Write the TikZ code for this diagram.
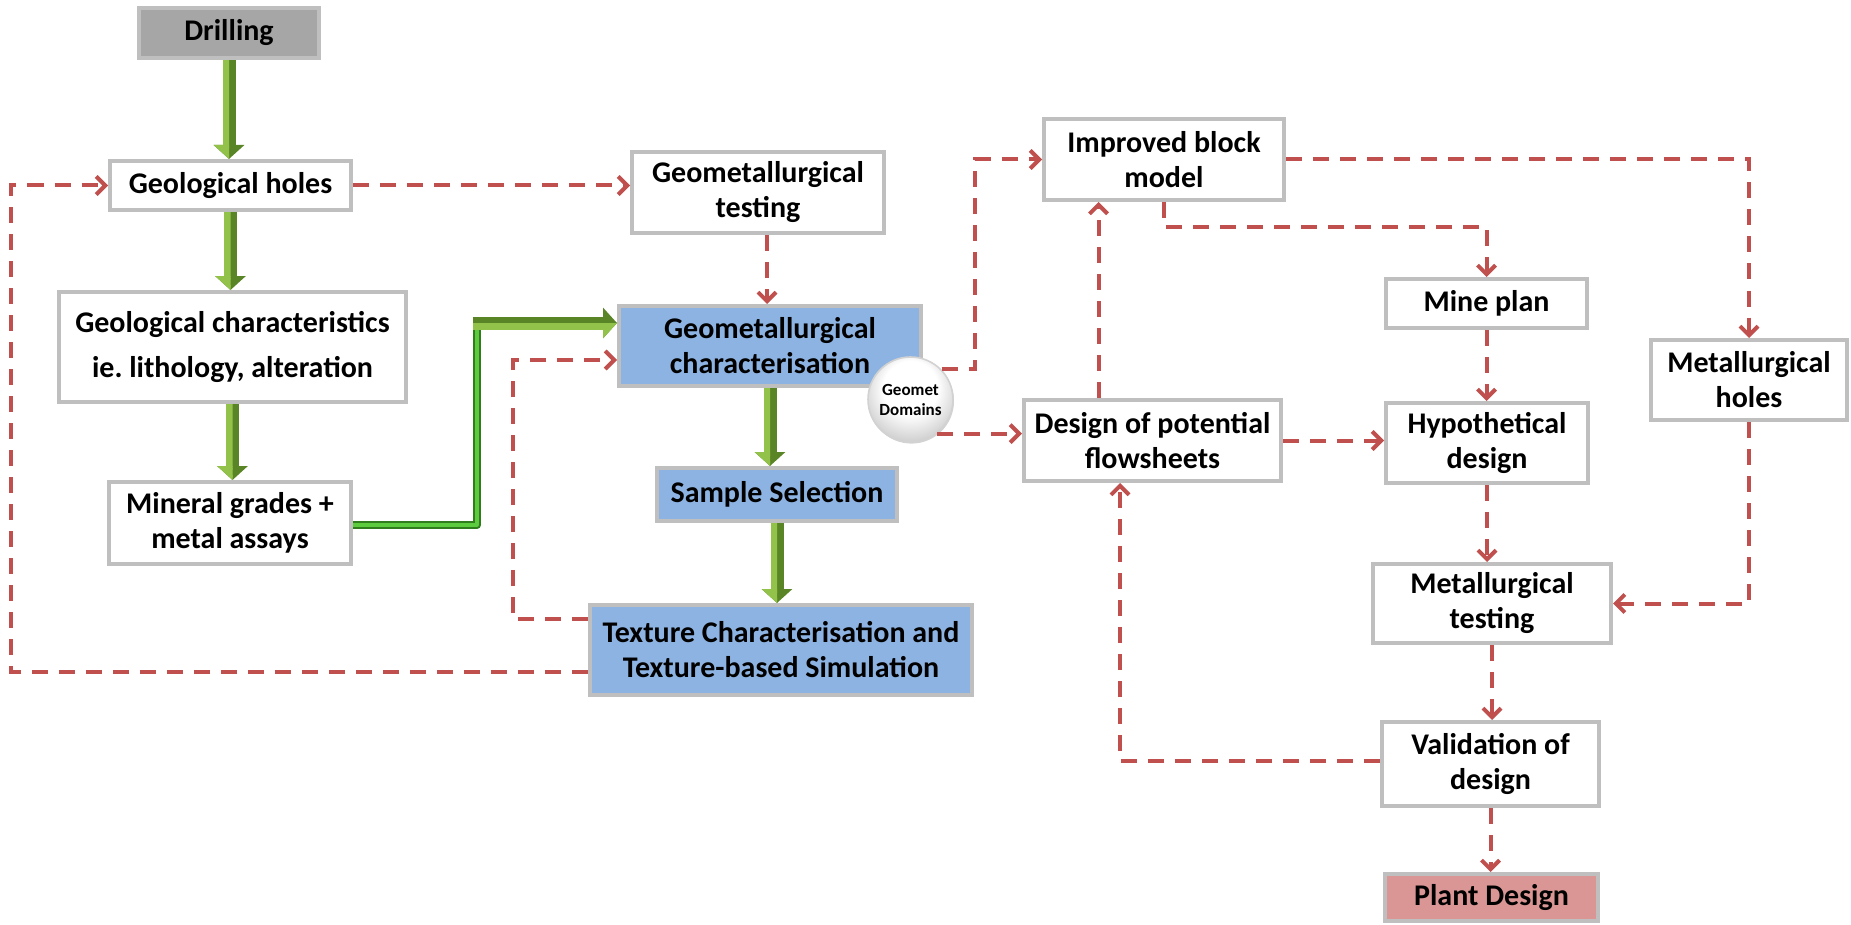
\documentclass[tikz,border=0pt]{standalone}
\usepackage{fontspec}
\setmainfont{Carlito}
\usetikzlibrary{arrows.meta,calc,shadows}
\frenchspacing
\definecolor{boxgray}{HTML}{BFBFBF}
\definecolor{shadowgray}{HTML}{A3A3A3}
\definecolor{drillfill}{HTML}{A6A6A6}
\definecolor{bluefill}{HTML}{8DB3E2}
\definecolor{plantfill}{HTML}{D99694}
\definecolor{redline}{HTML}{C0504D}
\definecolor{gdarkc}{HTML}{5A8526}
\definecolor{glightc}{HTML}{92C24A}
\definecolor{lgreend}{HTML}{2F7D1C}
\definecolor{lgreenl}{HTML}{5CCB3E}
\pgfdeclareradialshading{domball}{\pgfpoint{0bp}{10bp}}{color(0bp)=(white); color(16bp)=(white); color(30bp)=(gray!40); color(50bp)=(gray!45)}
\newcommand\gvarrow[2]{%
  \draw[gdark] (#1) -- (#1 |- #2);
  \begin{scope}
    \clip ($(#1)+(-20,-2)$) rectangle ($(#1 |- #2)+(0,2)$);
    \draw[glight] (#1) -- (#1 |- #2);
  \end{scope}}
\begin{document}
\begin{tikzpicture}[x=0.5pt,y=-0.5pt,
  box/.style={draw=boxgray, line width=2pt, fill=white, align=center, inner sep=0pt,
    font=\bfseries\fontsize{15}{17.5}\selectfont,
    drop shadow={shadow xshift=0.8pt, shadow yshift=-1.2pt, opacity=1, fill=shadowgray}},
  bluebox/.style={box, fill=bluefill},
  dashR/.style={draw=redline, line width=2pt, dash pattern=on 8pt off 5.5pt,
    -{Straight Barb[length=4.5pt,width=9pt]}},
  gdark/.style={draw=gdarkc, line width=6.5pt, -{Triangle[width=15pt,length=7pt]}},
  glight/.style={draw=glightc, line width=6.5pt, -{Triangle[width=15pt,length=7pt]}},
]
\useasboundingbox (0,0) rectangle (1851,925);

% nodes
\node[box, fill=drillfill, minimum width=90pt, minimum height=25pt] (drill) at (229,33) {Drilling};
\node[box, minimum width=120.5pt, minimum height=24.5pt] (holes) at (230.5,185.5) {Geological holes};
\node[box, minimum width=173.5pt, minimum height=55pt, font=\bfseries\fontsize{15}{22.5}\selectfont] (gchar) at (232.5,347) {Geological characteristics\\ie. lithology, alteration};
\node[box, minimum width=121pt, minimum height=41pt] (mineral) at (230,523) {Mineral grades +\\metal assays};
\node[box, minimum width=126pt, minimum height=40.5pt] (gtest) at (758,192.5) {Geometallurgical\\testing};
\node[bluebox, minimum width=151pt, minimum height=40pt] (gmchar) at (770,346) {Geometallurgical\\characterisation};
\node[bluebox, minimum width=120pt, minimum height=26.5pt] (sample) at (777,494.5) {Sample Selection};
\node[bluebox, minimum width=191pt, minimum height=45pt] (texture) at (781,650) {Texture Characterisation and\\Texture-based Simulation};
\node[box, minimum width=120pt, minimum height=40.5pt] (ibm) at (1164,159.5) {Improved block\\model};
\node[box, minimum width=100.5pt, minimum height=24.5pt] (mine) at (1486.5,303.5) {Mine plan};
\node[box, minimum width=98pt, minimum height=40pt] (metholes) at (1749,380) {Metallurgical\\holes};
\node[box, minimum width=128.5pt, minimum height=40.5pt] (design) at (1152.5,440.5) {Design of potential\\flowsheets};
\node[box, minimum width=101pt, minimum height=40pt] (hypo) at (1487,443) {Hypothetical\\design};
\node[box, minimum width=119pt, minimum height=39.5pt] (mettest) at (1492,603.5) {Metallurgical\\testing};
\node[box, minimum width=108.5pt, minimum height=42pt] (valid) at (1490.5,764) {Validation of\\design};
\node[box, fill=plantfill, minimum width=106.5pt, minimum height=23.5pt] (plant) at (1491.5,897.5) {Plant Design};
\node[circle, minimum size=42.5pt, inner sep=0pt, draw=gray!35, line width=0.8pt,
  shading=domball, align=center,
  drop shadow={shadow xshift=0.5pt, shadow yshift=-0.8pt, opacity=0.35, fill=gray},
  font=\bfseries\fontsize{8.5}{10}\selectfont] (circ) at (910.5,399.5) {Geomet\\Domains};

% red dashed connectors
\draw[dashR] (holes.east) -- (holes.east -| gtest.west);
\coordinate (gtS) at ([xshift=4.5pt]gtest.south);
\draw[dashR] (gtS) -- (gtS |- gmchar.north);
\coordinate (bIBM) at (975,159.5);
\draw[dashR] (circ.44) -| (bIBM) -- (ibm.west);
\draw[dashR] (circ.-52) -- (circ.-52 -| design.west);
\coordinate (dN) at ([xshift=-27pt]design.north);
\draw[dashR] (dN) -- (dN |- ibm.south);
\coordinate (bMine) at (1300,227);
\draw[dashR] (ibm.south) |- (bMine) -| (mine.north);
\draw[dashR] (ibm.east) -| (metholes.north);
\draw[dashR] (mine.south) -- (mine.south |- hypo.north);
\draw[dashR] (design.east) -- (design.east -| hypo.west);
\draw[dashR] (hypo.south) -- (hypo.south |- mettest.north);
\draw[dashR] (metholes.south) |- (mettest.east);
\draw[dashR] (mettest.south) -- (mettest.south |- valid.north);
\coordinate (vW) at ([yshift=1.5pt]valid.west);
\coordinate (dS) at ([xshift=-16.25pt]design.south);
\draw[dashR] (vW) -| (dS);
\draw[dashR] (valid.south) -- (valid.south |- plant.north);
\coordinate (tW1) at ([yshift=15.5pt]texture.west);
\coordinate (bTex) at (513,360);
\draw[dashR] (tW1) -| (bTex) -- ([yshift=-7pt]gmchar.west);
\coordinate (tW2) at ([yshift=-11pt]texture.west);
\coordinate (bHoles) at (11,185.5);
\draw[dashR] (tW2) -| (bHoles) -- (holes.west);

% green block arrows
\gvarrow{drill.south}{holes.north}
\gvarrow{holes.south}{gchar.north}
\gvarrow{gchar.south}{mineral.north}
\gvarrow{gmchar.south}{sample.north}
\gvarrow{sample.south}{texture.north}

% L-shaped green connector
\coordinate (gc1) at (477,525);
\coordinate (gc2) at (477,323);
\coordinate (gmW) at ([yshift=11.5pt]gmchar.west);
\draw[draw=lgreend, line width=4pt, line join=round] (mineral.east |- gc1) -- (gc1) -- (gc2);
\draw[draw=lgreenl, line width=1.6pt, line join=round] (mineral.east |- gc1) -- (gc1) -- (gc2);
\draw[gdark] ([xshift=-2pt]gc2) -- (gmW);
\begin{scope}
  \clip ($(gc2)+(-10,0)$) rectangle ($(gmW)+(5,20)$);
  \draw[glight] ([xshift=-2pt]gc2) -- (gmW);
\end{scope}
\end{tikzpicture}
\end{document}
